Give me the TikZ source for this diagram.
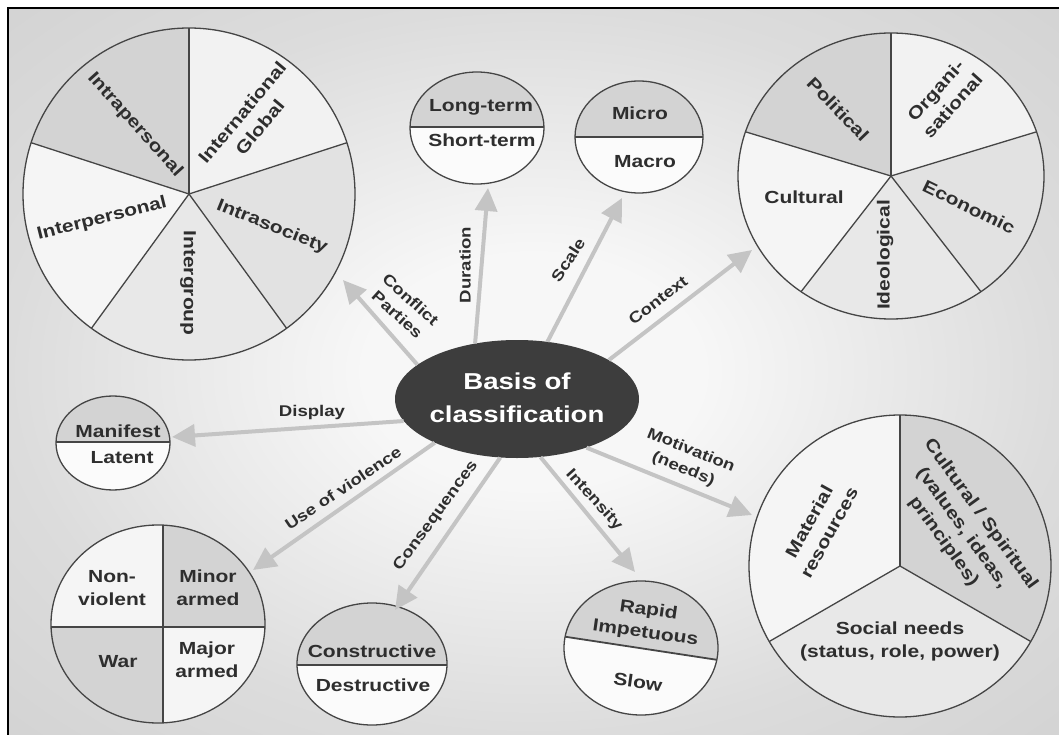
\documentclass[tikz,border=0pt]{standalone}
\usepackage{fontspec}
\setmainfont{Liberation Sans}[FakeStretch=1.2]
\usetikzlibrary{arrows.meta,shapes.geometric}
\definecolor{cdark}{HTML}{D3D3D3}
\definecolor{clight}{HTML}{F2F2F2}
\definecolor{cmid}{HTML}{E2E2E2}
\definecolor{cmidb}{HTML}{E8E8E8}
\definecolor{clightb}{HTML}{F5F5F5}
\definecolor{cwhite}{HTML}{FBFBFB}
\definecolor{cbasis}{HTML}{3D3D3D}
\definecolor{arrgray}{HTML}{C4C4C4}
\definecolor{linegray}{HTML}{454545}
\definecolor{txt}{HTML}{2E2E2E}
\definecolor{bgin}{HTML}{F7F7F7}
\definecolor{bgmid}{HTML}{DCDCDC}
\definecolor{bgout}{HTML}{D3D3D3}
\pgfdeclareradialshading{bgshade}{\pgfpoint{0bp}{0bp}}{color(0bp)=(bgin); color(8bp)=(bgin); color(25bp)=(bgmid); color(36bp)=(bgout); color(50bp)=(bgout)}
\tikzset{
  lbl/.style={font=\bfseries\fontsize{17.5}{23}\selectfont, align=center, inner sep=0pt, text=txt},
  albl/.style={font=\bfseries\fontsize{15.5}{20}\selectfont, align=center, inner sep=0pt, text=txt},
  arr/.style={draw=arrgray, line width=4pt, -{Triangle[length=23pt,width=22pt]}},
  outl/.style={draw=linegray, line width=1.3pt},
  divl/.style={draw=linegray, line width=1.8pt},
}
\begin{document}
\begin{tikzpicture}[x=1pt,y=1pt]
\useasboundingbox (0,0) rectangle (1059,-735);
\fill[white] (0,0) rectangle (1059,-735);
\shade[shading=bgshade] (8,-8) rectangle (1059,-735);
\draw[line width=2.2pt] (1059,-8) -- (8,-8) -- (8,-735);

% ---------- top-left pie: conflict parties
\coordinate (tl) at (189,-194);
\fill[cdark] (tl) -- ++(90:166) arc[start angle=90,end angle=162,radius=166] -- cycle;
\fill[clight] (tl) -- ++(18:166) arc[start angle=18,end angle=90,radius=166] -- cycle;
\fill[cmid] (tl) -- ++(-54:166) arc[start angle=-54,end angle=18,radius=166] -- cycle;
\fill[cmidb] (tl) -- ++(-126:166) arc[start angle=-126,end angle=-54,radius=166] -- cycle;
\fill[clightb] (tl) -- ++(162:166) arc[start angle=162,end angle=234,radius=166] -- cycle;
\foreach \a in {90,18,-54,-126,162} \draw[outl] (tl) -- ++(\a:166);
\draw[outl] (tl) circle[radius=166];
\node[lbl, rotate=-48] (intrap) at (135,-125) {Intrapersonal};
\node[lbl, rotate=50] (intl) at (251,-120) {International\\Global};
\node[lbl, rotate=-22] (intras) at (272,-227) {Intrasociety};
\node[lbl, rotate=-90] (interg) at (188,-283) {Intergroup};
\node[lbl, rotate=14] (interp) at (102,-219) {Interpersonal};

% ---------- top-right pie: context
\coordinate (tr) at (891,-176);
\fill[cdark] (tr) -- ++(90:153 and 143) arc[start angle=90,end angle=162,x radius=153,y radius=143] -- cycle;
\fill[clight] (tr) -- ++(18:153 and 143) arc[start angle=18,end angle=90,x radius=153,y radius=143] -- cycle;
\fill[cmid] (tr) -- ++(-54:153 and 143) arc[start angle=-54,end angle=18,x radius=153,y radius=143] -- cycle;
\fill[cmidb] (tr) -- ++(-126:153 and 143) arc[start angle=-126,end angle=-54,x radius=153,y radius=143] -- cycle;
\fill[clightb] (tr) -- ++(162:153 and 143) arc[start angle=162,end angle=234,x radius=153,y radius=143] -- cycle;
\foreach \a in {90,18,-54,-126,162} \draw[outl] (tr) -- ++(\a:153 and 143);
\draw[outl] (tr) ellipse[x radius=153,y radius=143];
\node[lbl, rotate=-46] (polit) at (838,-109) {Political};
\node[lbl, rotate=48] (organ) at (944,-98) {Organi-\\sational};
\node[lbl, rotate=-26] (econ) at (969,-207) {Economic};
\node[lbl, rotate=90] (ideol) at (885,-255) {Ideological};
\node[lbl] (cult) at (804,-197) {Cultural};

% ---------- bottom-right pie: motivation
\coordinate (br) at (900,-566);
\fill[clightb] (br) -- ++(90:151) arc[start angle=90,end angle=210,radius=151] -- cycle;
\fill[cdark] (br) -- ++(-30:151) arc[start angle=-30,end angle=90,radius=151] -- cycle;
\fill[cmidb] (br) -- ++(210:151) arc[start angle=210,end angle=330,radius=151] -- cycle;
\foreach \a in {90,-30,210} \draw[outl] (br) -- ++(\a:151);
\draw[outl] (br) circle[radius=151];
\node[lbl, rotate=61] (mater) at (819,-527) {Material\\resources};
\node[lbl, rotate=-54] (spirit) at (962,-528) {Cultural / Spiritual\\(values, ideas,\\principles)};
\node[lbl] (social) at (900,-641) {Social needs\\(status, role, power)};

% ---------- bottom-left quadrants: use of violence
\begin{scope}
\clip (158,-624) ellipse[x radius=107,y radius=99];
\fill[clightb] (40,-510) rectangle (163,-627);
\fill[cdark] (163,-510) rectangle (280,-627);
\fill[cdark] (40,-627) rectangle (163,-740);
\fill[clightb] (163,-627) rectangle (280,-740);
\draw[outl] (163,-510) -- (163,-740);
\draw[divl] (40,-627) -- (280,-627);
\end{scope}
\draw[outl] (158,-624) ellipse[x radius=107,y radius=99];
\node[lbl] (nonv) at (112,-588) {Non-\\violent};
\node[lbl] (minor) at (208,-588) {Minor\\armed};
\node[lbl] (war) at (118,-662) {War};
\node[lbl] (major) at (207,-660) {Major\\armed};

% ---------- duration
\begin{scope}
\clip (477,-128) ellipse[x radius=67,y radius=56];
\fill[cwhite] (400,-60) rectangle (550,-190);
\fill[cdark] (400,-60) rectangle (550,-127);
\draw[divl] (400,-127) -- (550,-127);
\end{scope}
\draw[outl] (477,-128) ellipse[x radius=67,y radius=56];
\node[lbl] (longt) at (481,-107) {Long-term};
\node[lbl] (shortt) at (482,-140) {Short-term};

% ---------- scale
\begin{scope}
\clip (639,-137) ellipse[x radius=64,y radius=56];
\fill[cwhite] (570,-75) rectangle (710,-200);
\fill[cdark] (570,-75) rectangle (710,-137);
\draw[divl] (570,-137) -- (710,-137);
\end{scope}
\draw[outl] (639,-137) ellipse[x radius=64,y radius=56];
\node[lbl] (micro) at (640,-113) {Micro};
\node[lbl] (macro) at (645,-162) {Macro};

% ---------- display
\begin{scope}
\clip (113,-443) ellipse[x radius=57,y radius=47];
\fill[cwhite] (50,-390) rectangle (180,-500);
\fill[cdark] (50,-390) rectangle (180,-442);
\draw[divl] (50,-442) -- (180,-442);
\end{scope}
\draw[outl] (113,-443) ellipse[x radius=57,y radius=47];
\node[lbl] (manif) at (118,-431) {Manifest};
\node[lbl] (latent) at (122,-458) {Latent};

% ---------- consequences
\begin{scope}
\clip (372,-664) ellipse[x radius=75,y radius=61];
\fill[cwhite] (290,-600) rectangle (455,-730);
\fill[cdark] (290,-600) rectangle (455,-665);
\draw[divl, line width=2.4pt] (290,-665) -- (455,-665);
\end{scope}
\draw[outl] (372,-664) ellipse[x radius=75,y radius=61];
\node[lbl] (constr) at (372,-651) {Constructive};
\node[lbl] (destr) at (373,-685) {Destructive};

% ---------- intensity
\begin{scope}
\clip (641,-648) ellipse[x radius=77,y radius=67];
\fill[cwhite] (550,-570) rectangle (730,-725);
\fill[cdark] (550,-570) -- (730,-570) -- (730,-661.8) -- (550,-634.4) -- cycle;
\draw[divl] (550,-634.4) -- (730,-661.8);
\end{scope}
\draw[outl] (641,-648) ellipse[x radius=77,y radius=67];
\node[lbl, rotate=-8] (rapid) at (647,-622) {Rapid\\Impetuous};
\node[lbl, rotate=-8] (slow) at (638,-682) {Slow};

% ---------- centre
\node[ellipse, fill=cbasis, minimum width=244pt, minimum height=118pt, inner sep=0pt] (basis) at (517,-399) {};
\node[font=\bfseries\fontsize{23}{33}\selectfont, text=white, align=center, inner sep=0pt] (btext) at (517,-398) {Basis of\\classification};

% ---------- arrows
\coordinate (tCP) at (343,-280);
\coordinate (tDu) at (488,-188);
\coordinate (tSc) at (622,-198);
\coordinate (tCo) at (752,-250);
\coordinate (tDi) at (172,-437);
\coordinate (tUV) at (253,-570);
\coordinate (tCn) at (395,-610);
\coordinate (tIn) at (635,-572);
\coordinate (tMo) at (752,-515);
\draw[arr] (basis.161.6) -- (tCP);
\draw[arr] (basis.127.6) -- (tDu);
\draw[arr] (basis.62.2) -- (tSc);
\draw[arr] (basis.23.5) -- (tCo);
\draw[arr] (basis.191.4) -- (tDi);
\draw[arr] (basis.208.5) -- (tUV);
\draw[arr] (basis.254.5) -- (tCn);
\draw[arr] (basis.292.3) -- (tIn);
\draw[arr] (basis.325) -- (tMo);

% ---------- arrow labels
\node[albl, rotate=-42] (lCP) at (404,-307) {Conflict\\Parties};
\node[albl, rotate=90] (lDu) at (465,-265) {Duration};
\node[albl, rotate=57] (lSc) at (568,-260) {Scale};
\node[albl, rotate=37] (lCo) at (658,-300) {Context};
\node[albl] (lDi) at (312,-412) {Display};
\node[albl, rotate=34] (lUV) at (343,-488) {Use of violence};
\node[albl, rotate=54] (lCn) at (436,-516) {Consequences};
\node[albl, rotate=-48] (lIn) at (594,-500) {Intensity};
\node[albl, rotate=-22] (lMo) at (687,-460) {Motivation\\(needs)};
\end{tikzpicture}
\end{document}
